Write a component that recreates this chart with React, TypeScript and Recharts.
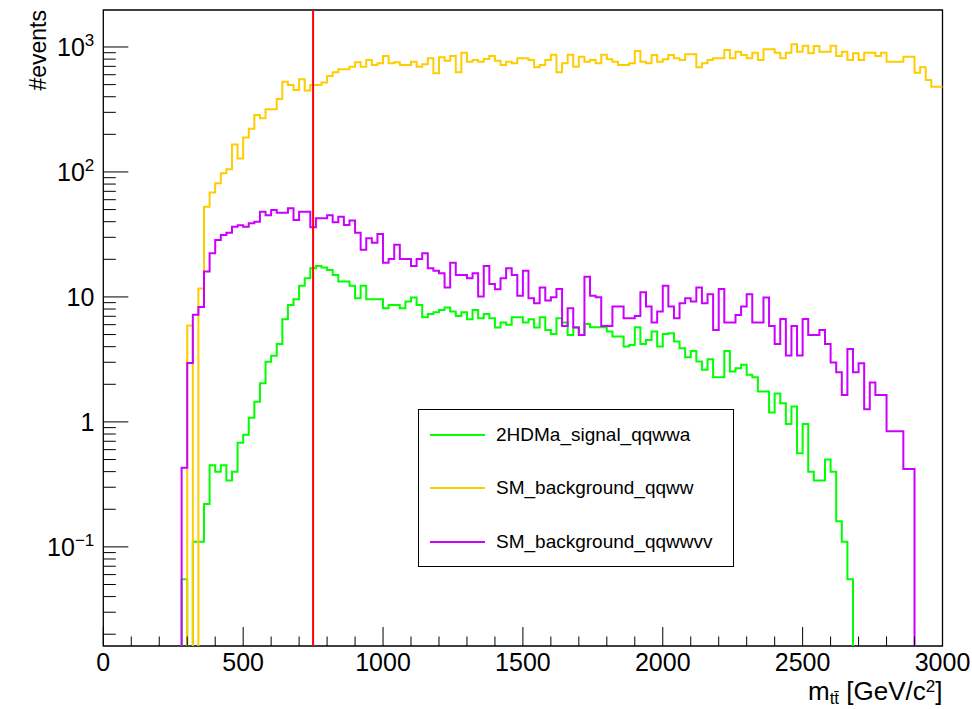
import { Legend, Line, LineChart, ReferenceArea, ReferenceLine, XAxis, YAxis } from "recharts";

const FONT = "'Liberation Sans', Arial, Helvetica, sans-serif";

const BIN_WIDTH = 20; // GeV
const X_MAX = 3000;
const N_BINS = X_MAX / BIN_WIDTH;
const Y_MIN = 0.0161;
const Y_MAX = 1977;
const CUT_MASS = 750;
// empty bins are pushed below the frame so the step falls to the floor
const EMPTY = 1e-4;

// bin contents, first entry is the bin starting at *_START GeV
const SIGNAL_START = 280;
const SIGNAL = [
  0.055, 0, 0.11, 0.11, 0.22, 0.45, 0.4, 0.45, 0.34, 0.4,
  0.68, 0.79, 1.08, 1.45, 2.04, 3.03, 3.39, 4.21, 6.63, 8.63,
  9.6, 12.3, 14.1, 17.0, 17.7, 17.2, 16.4, 15.0, 13.3, 13.3,
  12.3, 9.77, 12.3, 9.58, 9.58, 9.58, 8.11, 8.63, 8.63, 8.11,
  9.18, 9.89, 8.63, 6.87, 7.31, 7.54, 7.87, 8.22, 7.63, 7.05,
  7.54, 6.63, 7.87, 6.75, 7.31, 6.75, 5.69, 6.24, 5.98, 6.87,
  6.87, 6.24, 6.63, 5.69, 6.87, 5.45, 5.06, 6.75, 6.24, 4.97,
  5.72, 4.97, 6.08, 5.72, 5.72, 5.72, 5.28, 4.82, 4.82, 4.01,
  4.13, 5.72, 4.21, 4.53, 5.28, 4.01, 5.06, 5.12, 4.4, 3.88,
  3.29, 3.7, 3.04, 2.61, 3.17, 2.28, 2.28, 3.7, 2.53, 2.69,
  2.86, 2.38, 2.28, 1.75, 1.75, 1.19, 1.69, 1.41, 0.96, 1.33,
  0.56, 0.96, 0.4, 0.34, 0.34, 0.5, 0.4, 0.16, 0.11, 0.055,
];

const QQWW_START = 300;
const QQWW = [
  5.9, 0, 11.7, 52.8, 68.4, 81.1, 97.5, 105, 166, 128,
  189, 222, 286, 269, 317, 317, 384, 528, 497, 453,
  551, 448, 497, 497, 519, 586, 627, 663, 663, 696,
  754, 696, 787, 718, 740, 847, 740, 754, 718, 718,
  763, 695, 727, 812, 616, 827, 777, 847, 627, 900,
  763, 787, 763, 802, 847, 777, 718, 763, 740, 812,
  812, 787, 687, 718, 787, 868, 627, 740, 868, 695,
  837, 763, 787, 740, 868, 797, 763, 718, 718, 740,
  929, 763, 740, 863, 763, 797, 863, 812, 787, 874,
  874, 687, 740, 787, 812, 812, 947, 812, 917, 863,
  812, 900, 787, 958, 958, 900, 812, 900, 1050, 917,
  1025, 890, 1018, 917, 917, 1025, 847, 917, 787, 890,
  787, 900, 900, 847, 900, 763, 763, 763, 837, 837,
  623, 687, 545, 481, 481,
];

const QQWWVV_START = 280;
const QQWWVV = [
  0.43, 2.96, 7.2, 8.3, 16, 22.4, 28.6, 31.3, 32.7, 36.5,
  37.5, 36.5, 38.9, 40, 48, 45, 49.7, 47.2, 47.2, 51.3,
  41.3, 48, 48, 36.1, 42.7, 42.7, 45, 39.6, 43.8, 37.7,
  40.8, 32.7, 23.8, 29.5, 27.2, 31.9, 18.8, 20.1, 26.1, 20.1,
  20.1, 17.7, 20.1, 22.4, 17.0, 16.2, 15.5, 11.9, 18.8, 15.0,
  15.0, 14.1, 15.5, 10.1, 17.7, 12.7, 11.5, 14.1, 17.0, 15.0,
  10.2, 16.2, 9.76, 8.9, 11.9, 9.35, 9.94, 11.6, 5.86, 8.1,
  5.7, 4.97, 14.5, 10.2, 9.94, 5.86, 5.86, 8.37, 8.37, 6.75,
  6.75, 7.05, 10.9, 8.37, 6.24, 7.64, 12.3, 8.37, 6.75, 8.9,
  9.76, 9.18, 11.9, 8.9, 10.5, 5.45, 11.6, 6.24, 6.24, 7.18,
  8.37, 10.5, 6.24, 6.24, 9.88, 5.86, 4.21, 6.67, 3.4, 5.86,
  3.4, 6.67, 4.97, 4.97, 5.45, 4.21, 2.99, 2.5, 1.64, 3.84,
  2.5, 2.95, 1.26, 2.07, 1.64, 1.64, 0.84, 0.84, 0.84, 0.42, 0.42,
];

const X_LABELS = [0, 500, 1000, 1500, 2000, 2500, 3000];
const X_MINOR_STEP = 100;
const Y_DECADES = [0.01, 0.1, 1, 10, 100, 1000];

const SERIES = [
  { key: "signal", name: "2HDMa_signal_qqwwa", color: "#00ff00", values: SIGNAL, start: SIGNAL_START },
  { key: "qqww", name: "SM_background_qqww", color: "#ffcc00", values: QQWW, start: QQWW_START },
  { key: "qqwwvv", name: "SM_background_qqwwvv", color: "#cc00ff", values: QQWWVV, start: QQWWVV_START },
];

function binValue(values: number[], start: number, bin: number) {
  const k = bin - start / BIN_WIDTH;
  if (k < 0 || k >= values.length) return EMPTY;
  return values[k] || EMPTY;
}

// one point per bin edge; the last edge repeats the last bin so the step closes at 3000
const rows = Array.from({ length: N_BINS + 1 }, (_, i) => {
  const bin = Math.min(i, N_BINS - 1);
  const row: Record<string, number> = { x: i * BIN_WIDTH };
  SERIES.forEach((s) => {
    row[s.key] = binValue(s.values, s.start, bin);
  });
  return row;
});

const xTicks = Array.from({ length: X_MAX / X_MINOR_STEP + 1 }, (_, i) => i * X_MINOR_STEP);
const yTicks = Y_DECADES.flatMap((d) => [1, 2, 3, 4, 5, 6, 7, 8, 9].map((m) => m * d)).filter(
  (v) => v >= Y_MIN && v <= Y_MAX,
);

// frame edges in pixels (chart is placed at the page origin)
const PLOT_LEFT = 103.3;
const PLOT_RIGHT = 942.5;
const PLOT_TOP = 10;
const PLOT_BOTTOM = 646;
const Y_AXIS_WIDTH = 60;
const X_AXIS_HEIGHT = 40;

function XTick({ x, y, payload }: any) {
  const major = X_LABELS.includes(payload.value);
  return (
    <g>
      <line x1={x} x2={x} y1={y} y2={y - (major ? 19 : 9.5)} stroke="#000" strokeWidth={1} />
      {major ? (
        <text x={x} y={y + 25} textAnchor="middle" fontSize={25} fontFamily={FONT} fill="#000">
          {payload.value}
        </text>
      ) : null}
    </g>
  );
}

function decadeLabel(exp: number) {
  if (exp === 0) return <tspan>1</tspan>;
  if (exp === 1) return <tspan>10</tspan>;
  return (
    <>
      <tspan>10</tspan>
      <tspan dy={-10} fontSize={17}>
        {exp < 0 ? `\u2212${-exp}` : exp}
      </tspan>
    </>
  );
}

function YTick({ x, y, payload }: any) {
  const lg = Math.log10(payload.value);
  const exp = Math.round(lg);
  const major = Math.abs(lg - exp) < 1e-6;
  return (
    <g>
      <line x1={x} x2={x + (major ? 25 : 12.5)} y1={y} y2={y} stroke="#000" strokeWidth={1} />
      {major ? (
        <text x={x - 9} y={y + 9} textAnchor="end" fontSize={25} fontFamily={FONT} fill="#000">
          {decadeLabel(exp)}
        </text>
      ) : null}
    </g>
  );
}

function XTitle() {
  return (
    <text x={PLOT_RIGHT} y={PLOT_BOTTOM + 54} textAnchor="end" fontSize={26} fontFamily={FONT} fill="#000">
      m
      <tspan dy={4} fontSize={17}>
        t{"t\u0304"}
      </tspan>
      <tspan dy={-4}> [GeV/c</tspan>
      <tspan dy={-8} fontSize={17}>
        2
      </tspan>
      <tspan dy={8}>]</tspan>
    </text>
  );
}

function YTitle() {
  const x = PLOT_LEFT - 57;
  const y = PLOT_TOP;
  return (
    <text
      x={x}
      y={y}
      transform={`rotate(-90 ${x} ${y})`}
      textAnchor="end"
      fontSize={23}
      fontFamily={FONT}
      fill="#000"
    >
      #events
    </text>
  );
}

function LegendBox() {
  return (
    <div
      style={{
        width: 316,
        height: 158,
        boxSizing: "border-box",
        border: "1.5px solid #000",
        background: "#fff",
        position: "relative",
        fontFamily: FONT,
      }}
    >
      {SERIES.map((s, i) => (
        <div
          key={s.key}
          style={{
            position: "absolute",
            left: 11,
            top: 25 + i * 53.3 - 12,
            height: 24,
            display: "flex",
            alignItems: "center",
            whiteSpace: "nowrap",
          }}
        >
          <svg width={55} height={4} style={{ display: "block" }}>
            <line x1={0} x2={55} y1={2} y2={2} stroke={s.color} strokeWidth={2} />
          </svg>
          <span style={{ marginLeft: 11, fontSize: 19, color: "#000" }}>{s.name}</span>
        </div>
      ))}
    </div>
  );
}

export default function App() {
  return (
    <div style={{ position: "absolute", left: 0, top: 0, width: 972, height: 709, background: "#fff" }}>
      <LineChart
        width={972}
        height={709}
        data={rows}
        margin={{
          top: PLOT_TOP,
          right: 972 - PLOT_RIGHT,
          bottom: 709 - PLOT_BOTTOM - X_AXIS_HEIGHT,
          left: PLOT_LEFT - Y_AXIS_WIDTH,
        }}
      >
        <XAxis
          type="number"
          dataKey="x"
          domain={[0, X_MAX]}
          ticks={xTicks}
          interval={0}
          height={X_AXIS_HEIGHT}
          tickSize={0}
          tickMargin={0}
          tickLine={false}
          axisLine={false}
          tick={<XTick />}
        />
        <YAxis
          type="number"
          scale="log"
          domain={[Y_MIN, Y_MAX]}
          allowDataOverflow
          ticks={yTicks}
          interval={0}
          width={Y_AXIS_WIDTH}
          tickSize={0}
          tickMargin={0}
          tickLine={false}
          axisLine={false}
          tick={<YTick />}
        />
        <ReferenceArea
          x1={0}
          x2={X_MAX}
          y1={Y_MIN}
          y2={Y_MAX}
          fill="none"
          stroke="#000"
          strokeWidth={1.3}
          ifOverflow="visible"
        />
        {SERIES.map((s) => (
          <Line
            key={s.key}
            type="stepAfter"
            dataKey={s.key}
            name={s.name}
            stroke={s.color}
            strokeWidth={2}
            dot={false}
            activeDot={false}
            isAnimationActive={false}
          />
        ))}
        <ReferenceLine x={CUT_MASS} stroke="#ff0000" strokeWidth={2} />
        <Legend
          layout="horizontal"
          verticalAlign="middle"
          align="center"
          content={<LegendBox />}
          wrapperStyle={{ left: 418, top: 409, width: 316, height: 158 }}
        />
      </LineChart>
      <svg
        width={972}
        height={709}
        style={{ position: "absolute", left: 0, top: 0, pointerEvents: "none" }}
      >
        <XTitle />
        <YTitle />
      </svg>
    </div>
  );
}
